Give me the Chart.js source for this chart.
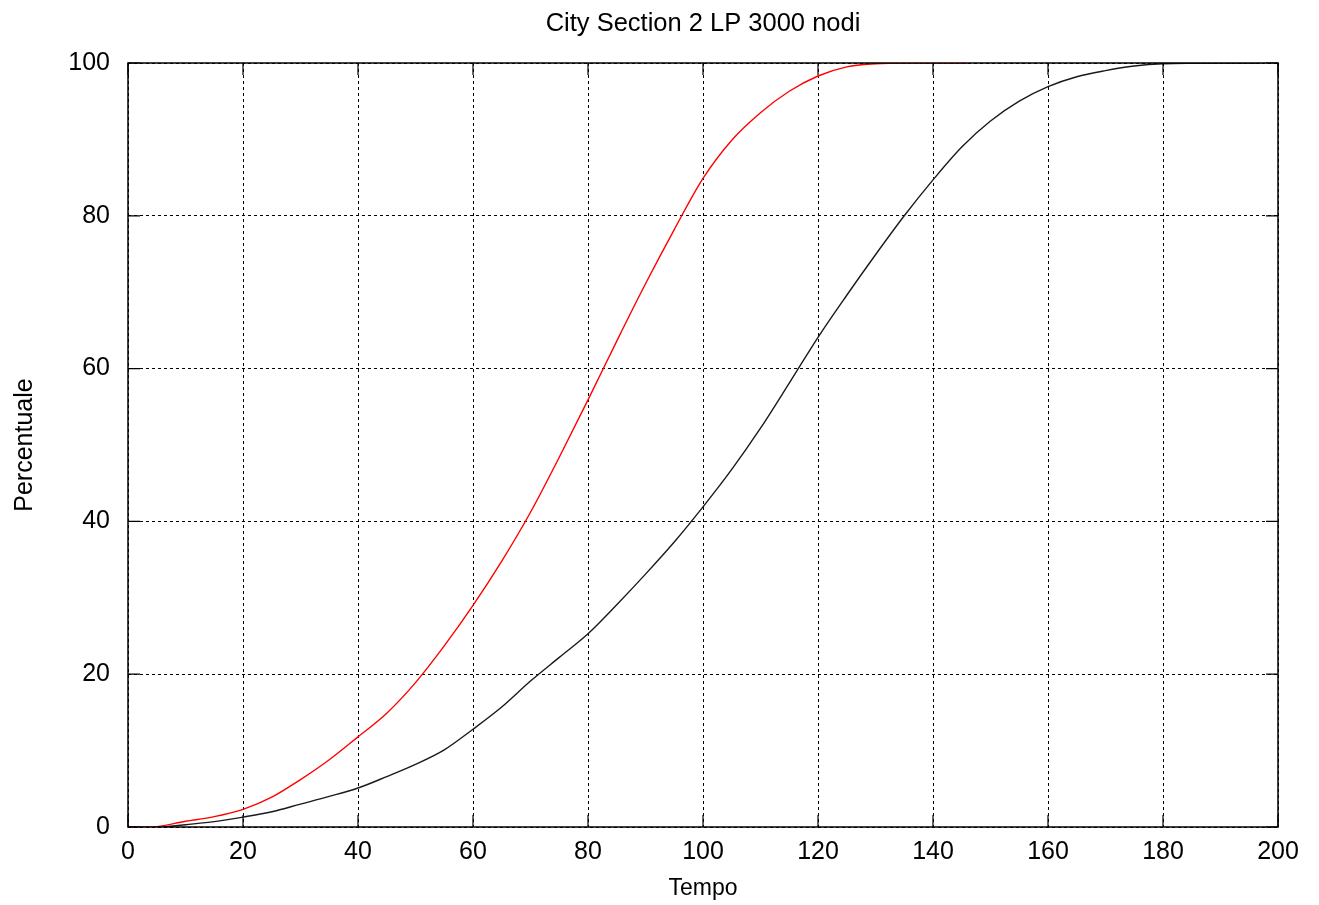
<!DOCTYPE html>
<html>
<head>
<meta charset="utf-8">
<script src="https://cdn.jsdelivr.net/npm/chart.js@4.4.0/dist/chart.umd.min.js"></script>
<style>
  html, body { margin: 0; padding: 0; background: #fff; }
  #wrap { width: 1319px; height: 905px; }
</style>
</head>
<body>
<div id="wrap"><canvas id="c" width="1319" height="905"></canvas></div>
<script>
// ---- data ----
const chartTitle = "City Section 2 LP 3000 nodi";
const xTitle = "Tempo";
const yTitle = "Percentuale";

const redTime = [0, 4, 10, 15, 20, 25, 30, 35, 40, 45, 50, 55, 60, 65, 70, 75, 80, 85, 90, 95, 100, 105, 110, 115, 120, 125, 130, 135, 140, 146];
const redPerc = [0, 0, 0.75, 1.35, 2.3, 3.9, 6.2, 8.8, 11.8, 14.9, 18.9, 23.7, 29.0, 34.8, 41.2, 48.4, 55.9, 63.6, 71.1, 78.2, 84.9, 89.9, 93.5, 96.3, 98.3, 99.5, 99.9, 100, 100, 100];

const blackTime = [6, 10, 15, 20, 25, 30, 35, 40, 45, 50, 55, 60, 65, 70, 75, 80, 85, 90, 95, 100, 105, 110, 115, 120, 125, 130, 135, 140, 145, 150, 155, 160, 165, 170, 175, 180, 190, 197];
const blackPerc = [0, 0.3, 0.7, 1.3, 2.0, 3.0, 4.0, 5.1, 6.6, 8.2, 10.1, 12.8, 15.7, 19.1, 22.2, 25.3, 29.1, 33.1, 37.3, 41.9, 46.8, 52.2, 58.1, 64.1, 69.6, 74.9, 80.0, 84.7, 89.0, 92.4, 95.0, 96.9, 98.2, 99.0, 99.6, 99.9, 100, 100];

const xTicks = [0, 20, 40, 60, 80, 100, 120, 140, 160, 180, 200];
const yTicks = [0, 20, 40, 60, 80, 100];

function pairs(xs, ys) { return xs.map((x, i) => ({ x: x, y: ys[i] })); }

const FONT = "'Liberation Sans', Arial, sans-serif";

// frame + inward tick marks (gnuplot style) + title centred over the plot area
const framePlugin = {
  id: 'frame',
  afterDraw(chart) {
    const { ctx, chartArea: a, scales } = chart;
    ctx.save();
    ctx.strokeStyle = '#000';
    ctx.lineWidth = 1.5;
    ctx.setLineDash([]);
    ctx.strokeRect(a.left, a.top, a.right - a.left, a.bottom - a.top);
    ctx.lineWidth = 1.2;
    const L = 12;
    ctx.beginPath();
    xTicks.forEach(v => {
      const px = scales.x.getPixelForValue(v);
      ctx.moveTo(px, a.bottom); ctx.lineTo(px, a.bottom - L);
      ctx.moveTo(px, a.top); ctx.lineTo(px, a.top + L);
    });
    yTicks.forEach(v => {
      const py = scales.y.getPixelForValue(v);
      ctx.moveTo(a.left, py); ctx.lineTo(a.left + L, py);
      ctx.moveTo(a.right, py); ctx.lineTo(a.right - L, py);
    });
    ctx.stroke();
    // title
    ctx.fillStyle = '#000';
    ctx.font = "25.5px " + FONT;
    ctx.textAlign = 'center';
    ctx.textBaseline = 'middle';
    ctx.fillText(chartTitle, (a.left + a.right) / 2, 23.5);
    ctx.restore();
  }
};

new Chart(document.getElementById('c'), {
  type: 'scatter',
  data: {
    datasets: [
      {
        label: 'LP red',
        data: pairs(redTime, redPerc),
        showLine: true,
        borderColor: 'rgb(255,0,0)',
        borderWidth: 1.4,
        pointRadius: 0,
        cubicInterpolationMode: 'monotone'
      },
      {
        label: 'LP black',
        data: pairs(blackTime, blackPerc),
        showLine: true,
        borderColor: '#1a1a1a',
        borderWidth: 1.4,
        pointRadius: 0,
        cubicInterpolationMode: 'monotone'
      }
    ]
  },
  options: {
    responsive: false,
    animation: false,
    devicePixelRatio: 1,
    layout: { padding: { left: 0, right: 41, top: 63, bottom: 0 } },
    plugins: {
      legend: { display: false },
      tooltip: { enabled: false },
      title: { display: false }
    },
    scales: {
      x: {
        type: 'linear',
        min: 0, max: 200,
        afterBuildTicks(scale) { scale.ticks = xTicks.map(v => ({ value: v })); },
        afterFit(scale) { scale.height = 78; },
        ticks: {
          color: '#000',
          font: { family: FONT, size: 25 },
          padding: 10,
          maxRotation: 0
        },
        grid: {
          color: '#000',
          lineWidth: 1,
          drawTicks: false
        },
        border: { display: false, dash: [3, 3] },
        title: {
          display: true,
          text: xTitle,
          color: '#000',
          font: { family: FONT, size: 23 },
          padding: { top: 0, bottom: 3 }
        }
      },
      y: {
        type: 'linear',
        min: 0, max: 100,
        afterBuildTicks(scale) { scale.ticks = yTicks.map(v => ({ value: v })); },
        afterFit(scale) { scale.width = 128; },
        ticks: {
          color: '#000',
          font: { family: FONT, size: 25 },
          padding: 18
        },
        grid: {
          color: '#000',
          lineWidth: 1,
          drawTicks: false
        },
        border: { display: false, dash: [3, 3] },
        title: {
          display: true,
          text: yTitle,
          color: '#000',
          font: { family: FONT, size: 25 },
          padding: { top: 10, bottom: 0 }
        }
      }
    }
  },
  plugins: [framePlugin]
});
</script>
</body>
</html>
